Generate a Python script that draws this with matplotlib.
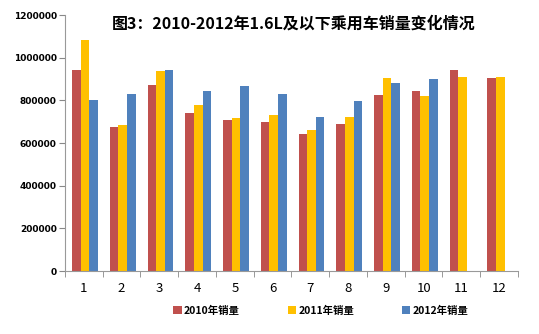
import numpy as np
import matplotlib.pyplot as plt

plt.rcParams['font.family'] = ['Noto Sans CJK SC', 'DejaVu Sans']

months = ['1', '2', '3', '4', '5', '6', '7', '8', '9', '10', '11', '12']
sales_2010 = [942000, 676000, 871000, 739000, 709000, 697000, 643000, 689000, 826000, 845000, 943000, 904000]
sales_2011 = [1082000, 685000, 937000, 778000, 718000, 732000, 661000, 722000, 904000, 820000, 910000, 909000]
sales_2012 = [800000, 832000, 943000, 845000, 868000, 832000, 724000, 797000, 880000, 901000, np.nan, np.nan]
series_names = ['2010年销量', '2011年销量', '2012年销量']
colors = ['#C0504D', '#FFC000', '#4F81BD']

fig = plt.figure(figsize=(5.39, 3.34), dpi=100)
ax = fig.add_axes([0.1206, 0.1886, 0.8404, 0.7664])

x = np.arange(len(months))
w = 0.228
for i, (vals, name, c) in enumerate(zip([sales_2010, sales_2011, sales_2012], series_names, colors)):
    ax.bar(x + (i - 1) * w + 0.03, vals, width=w, color=c, label=name)

ax.set_xlim(-0.5, len(months) - 0.5)
ax.set_ylim(0, 1200000)
ax.set_yticks(np.arange(0, 1200001, 200000))
ax.set_yticklabels([str(v) for v in range(0, 1200001, 200000)], fontsize=6.5, fontweight='bold',
                   family='DejaVu Sans')
ax.set_xticks(x)
ax.set_xticklabels(months, fontsize=9.5)
ax.set_xticks(np.arange(-0.5, len(months), 1), minor=True)
ax.tick_params(axis='x', which='major', length=0, pad=8)
ax.tick_params(axis='x', which='minor', length=4, color='#888888')
ax.tick_params(axis='y', length=4, color='#888888', pad=2)

for side in ['top', 'right']:
    ax.spines[side].set_visible(False)
for side in ['left', 'bottom']:
    ax.spines[side].set_color('#999999')

fig.text(0.545, 0.93, '图3：2010-2012年1.6L及以下乘用车销量变化情况', ha='center', va='center',
         fontsize=11.5, fontweight='bold')

fig.legend(loc='center', bbox_to_anchor=(0.595, 0.07), ncol=3, frameon=False,
           handlelength=0.8, handleheight=0.8, columnspacing=4.6, handletextpad=0.2,
           prop={'family': ['Noto Sans CJK SC'], 'size': 7.5, 'weight': 'bold'})

fig.savefig('out.png', dpi=100)
